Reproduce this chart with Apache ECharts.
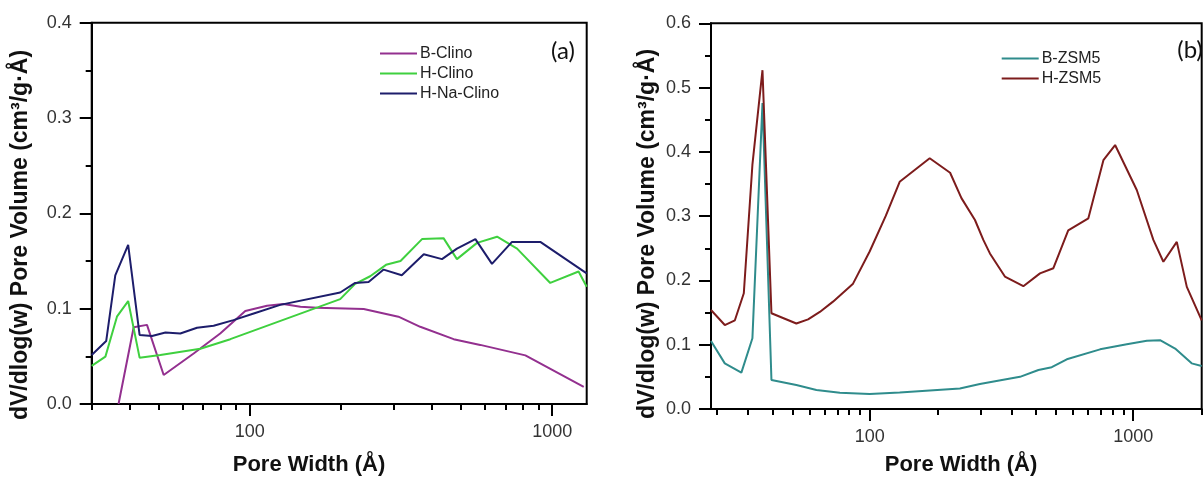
<!DOCTYPE html>
<html><head><meta charset="utf-8">
<script src="https://cdn.jsdelivr.net/npm/echarts@6/dist/echarts.min.js"></script>
<style>html,body{margin:0;padding:0;background:#fff}#c{width:1203px;height:477px}</style>
</head><body><div id="c"></div>
<script>
// ---- Panel (a) data ----
const bClinoX = [36.8, 41.3, 45.7, 51.9, 65.2, 79.8, 96.6, 114, 129, 147, 167, 238, 310, 366, 472, 578, 815, 1271];
const bClinoY = [0.0, 0.0805, 0.083, 0.0304, 0.053, 0.074, 0.0976, 0.103, 0.105, 0.102, 0.101, 0.0997, 0.0916, 0.081, 0.068, 0.062, 0.051, 0.018];
const hClinoX = [30, 33.3, 36.4, 39.6, 43.2, 50.6, 68.6, 86.2, 199, 223, 250, 282, 315, 371, 437, 484, 564, 657, 765, 985, 1222, 1300];
const hClinoY = [0.040, 0.0497, 0.092, 0.108, 0.0486, 0.0514, 0.058, 0.068, 0.110, 0.126, 0.134, 0.146, 0.150, 0.173, 0.174, 0.152, 0.169, 0.1755, 0.163, 0.127, 0.139, 0.123];
const hNaClinoX = [30, 33.5, 35.9, 39.6, 43.2, 47.5, 52.6, 58.9, 66.9, 75.9, 88.3, 103, 126, 199, 223, 247, 277, 318, 376, 432, 484, 557, 632, 736, 913, 1300];
const hNaClinoY = [0.0514, 0.066, 0.135, 0.167, 0.0724, 0.0714, 0.075, 0.074, 0.080, 0.082, 0.088, 0.095, 0.104, 0.117, 0.127, 0.128, 0.141, 0.135, 0.157, 0.152, 0.163, 0.173, 0.147, 0.170, 0.170, 0.137];
// ---- Panel (b) data ----
const bZsmX = [25, 28.2, 32.6, 35.9, 39.2, 42.4, 52.7, 62.8, 77.1, 100, 130, 220, 262, 372, 437, 491, 560, 749, 946, 1127, 1265, 1443, 1667, 1820];
const bZsmY = [0.1057, 0.071, 0.0565, 0.110, 0.476, 0.045, 0.0373, 0.0296, 0.0254, 0.0233, 0.0255, 0.032, 0.039, 0.050, 0.0607, 0.065, 0.0773, 0.0928, 0.1006, 0.106, 0.107, 0.094, 0.071, 0.067];
const hZsmX = [25, 28.2, 30.8, 33.3, 35.9, 39.2, 42.4, 52.7, 58.4, 64.7, 72.6, 86.5, 100, 115, 130, 169, 202, 223, 251, 270, 286, 326, 383, 443, 498, 567, 676, 771, 854, 1032, 1193, 1302, 1464, 1598, 1820];
const hZsmY = [0.154, 0.1306, 0.138, 0.180, 0.38, 0.527, 0.149, 0.133, 0.1395, 0.151, 0.167, 0.195, 0.245, 0.30, 0.3535, 0.390, 0.3675, 0.328, 0.294, 0.263, 0.242, 0.206, 0.191, 0.211, 0.219, 0.278, 0.2966, 0.387, 0.4106, 0.3406, 0.263, 0.229, 0.260, 0.190, 0.138];

// ---- Tick values ----
const majorTicks = [100, 1000];
const minorTicksA = [30, 40, 50, 60, 70, 80, 90, 200, 300, 400, 500, 600, 700, 800, 900];
const minorTicksB = [26.4, 34.5, 42.7, 50.9, 59.1, 67.3, 75.5, 83.6, 91.8, 181.8, 263.6, 345.5, 427.3, 509.1, 590.9, 672.7, 754.5, 836.4, 918.2, 1818.2];

const namesA = ['B-Clino', 'H-Clino', 'H-Na-Clino'];
const namesB = ['B-ZSM5', 'H-ZSM5'];
const colors = {'B-Clino':'#93308f','H-Clino':'#3fd03f','H-Na-Clino':'#1d1d6b','B-ZSM5':'#2f8c8c','H-ZSM5':'#7d1c1c'};

const FONT = 'Liberation Sans, Arial, sans-serif';
const pair = (xs, ys) => xs.map((x, i) => [x, ys[i]]);

const gridA = {left: 91.7, top: 22.7, width: 495, height: 381.3};
const gridB = {left: 711, top: 23.3, width: 490.7, height: 385.7};

function gridOpt(g) {
  return Object.assign({show: true, borderColor: '#000', borderWidth: 2, backgroundColor: 'transparent', containLabel: false}, g);
}
function xMajor(gi, min, max) {
  return {type: 'log', logBase: 10, gridIndex: gi, position: 'bottom', min: min, max: max,
    axisLine: {show: true, lineStyle: {color: '#000', width: 2}},
    axisTick: {show: true, customValues: majorTicks, length: 12, lineStyle: {color: '#000', width: 2}},
    axisLabel: {show: true, customValues: majorTicks, fontSize: 18, fontFamily: FONT, color: '#333', margin: 19,
      formatter: v => String(Math.round(v))},
    splitLine: {show: false}, minorTick: {show: false}, minorSplitLine: {show: false}};
}
function xMinor(gi, min, max, ticks) {
  return {type: 'log', logBase: 10, gridIndex: gi, position: 'bottom', min: min, max: max,
    axisLine: {show: false},
    axisTick: {show: true, customValues: ticks, length: 6, lineStyle: {color: '#000', width: 2}},
    axisLabel: {show: false}, splitLine: {show: false}};
}
function yAx(gi, max) {
  return {type: 'value', gridIndex: gi, min: 0, max: max, interval: 0.1,
    axisLine: {show: true, lineStyle: {color: '#000', width: 2}},
    axisTick: {show: true, length: 12, lineStyle: {color: '#000', width: 2}},
    minorTick: {show: true, splitNumber: 2, length: 6, lineStyle: {color: '#000', width: 2}},
    axisLabel: {fontSize: 18, fontFamily: FONT, color: '#333', margin: 20, formatter: v => v.toFixed(1)},
    splitLine: {show: false}, minorSplitLine: {show: false}};
}
function line(name, xs, ys, xi, yi) {
  return {type: 'line', name: name, xAxisIndex: xi, yAxisIndex: yi, data: pair(xs, ys),
    showSymbol: false, symbol: 'none', smooth: false, clip: true,
    lineStyle: {color: colors[name], width: 2}, itemStyle: {color: colors[name]}, z: 3};
}
function legend(names, left, top) {
  return {data: names, orient: 'vertical', left: left, top: top, icon: 'rect', itemWidth: 37, itemHeight: 2,
    itemGap: 4, padding: 0, textStyle: {fontSize: 16, fontFamily: FONT, color: '#222', padding: [0,0,0,-2]}, selectedMode: false};
}
function txt(text, x, y, size, bold, rot, family) {
  return {type: 'text', x: x, y: y, rotation: rot || 0, z: 10,
    style: {text: text, fontSize: size, fontWeight: bold ? 'bold' : 'normal', fontFamily: family || FONT,
      fill: '#111', align: 'center', verticalAlign: 'middle'}};
}

const chart = echarts.init(document.getElementById('c'), null, {renderer: 'canvas'});
chart.setOption({
  backgroundColor: '#fff',
  animation: false,
  grid: [gridOpt(gridA), gridOpt(gridB)],
  xAxis: [xMajor(0, 30, 1300), xMinor(0, 30, 1300, minorTicksA), xMajor(1, 25, 1820), xMinor(1, 25, 1820, minorTicksB)],
  yAxis: [yAx(0, 0.4), yAx(1, 0.6)],
  legend: [legend(namesA, 380, 45.5), legend(namesB, 1001.7, 50.5)],
  series: [
    line('B-Clino', bClinoX, bClinoY, 0, 0),
    line('H-Clino', hClinoX, hClinoY, 0, 0),
    line('H-Na-Clino', hNaClinoX, hNaClinoY, 0, 0),
    line('B-ZSM5', bZsmX, bZsmY, 2, 1),
    line('H-ZSM5', hZsmX, hZsmY, 2, 1)
  ],
  graphic: [
    txt('dV/dlog(w) Pore Volume (cm³/g·Å)', 21, 235, 23, true, Math.PI / 2),
    txt('dV/dlog(w) Pore Volume (cm³/g·Å)', 648, 234, 23, true, Math.PI / 2),
    txt('Pore Width (Å)', 309, 465, 22, true, 0),
    txt('Pore Width (Å)', 961, 465, 22, true, 0),
    txt('(a)', 563, 51, 24, false, 0, 'Lato, Open Sans, sans-serif'),
    txt('(b)', 1190, 50, 24, false, 0, 'Lato, Open Sans, sans-serif')
  ]
});
</script></body></html>
